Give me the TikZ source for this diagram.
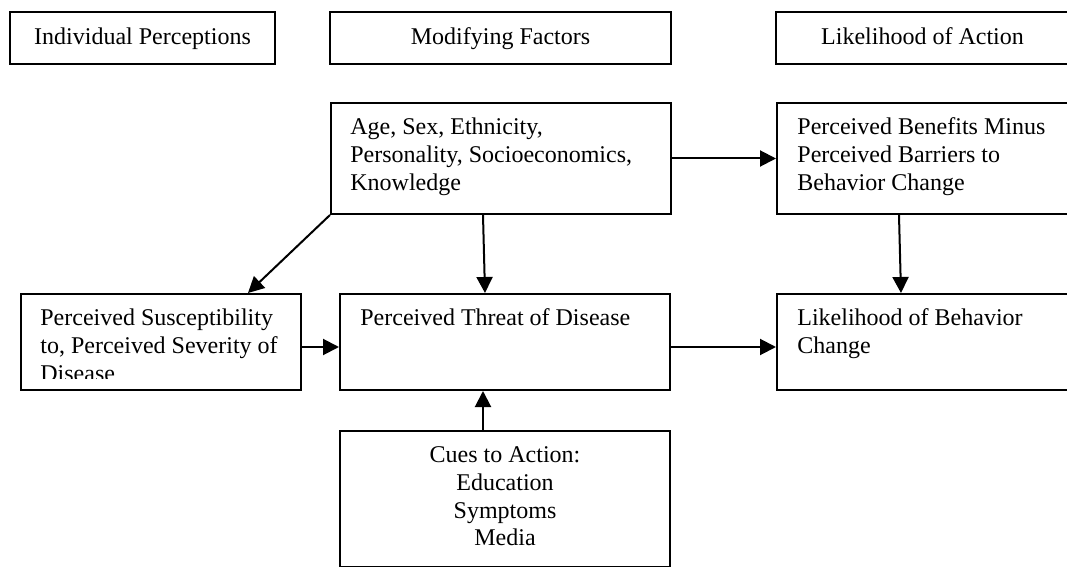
\documentclass[tikz,border=0pt]{standalone}
\usepackage{fontspec}
\setmainfont{Liberation Serif}
\usetikzlibrary{arrows.meta,calc}
\begin{document}
\begin{tikzpicture}[x=0.5pt,y=-0.5pt,
  box/.style={draw, line width=1pt, inner sep=0pt, anchor=north west},
  txt/.style={inner sep=0pt, anchor=north west, align=left, font=\fontsize{12}{13.9}\selectfont},
  ctxt/.style={inner sep=0pt, anchor=north, align=center, font=\fontsize{12}{13.9}\selectfont},
  hdr/.style={draw, line width=1pt, inner sep=0pt, anchor=north west, text height=9pt, text depth=2.7pt, font=\fontsize{12}{13.9}\selectfont},
  arr/.style={line width=1pt, -{Triangle[length=8pt,width=8pt]}}]
\useasboundingbox (0,0) rectangle (1067,567);
% headers
\node[hdr, minimum width=132.5pt, minimum height=26pt] (h1) at (9,11) {Individual Perceptions};
\node[hdr, minimum width=170.5pt, minimum height=26pt] (h2) at (329,11) {Modifying Factors};
\node[hdr, minimum width=146.5pt, minimum height=26pt] (h3) at (775,11) {Likelihood of Action};
% boxes
\node[box, minimum width=170pt, minimum height=55.5pt] (age) at (330,102) {};
\node[box, minimum width=146pt, minimum height=55.5pt] (ben) at (776,102) {};
\node[box, minimum width=140pt, minimum height=48pt] (sus) at (20,293) {};
\node[box, minimum width=165pt, minimum height=48pt] (thr) at (339,293) {};
\node[box, minimum width=146pt, minimum height=48pt] (lik) at (776,293) {};
\node[box, minimum width=165pt, minimum height=68pt] (cue) at (339,430) {};
% texts
\node[txt] (agetxt) at ([shift={(10pt,-6.3pt)}]age.north west) {\strut Age, Sex, Ethnicity,\\Personality, Socioeconomics,\\Knowledge};
\node[txt] (bentxt) at ([shift={(10.5pt,-6.3pt)}]ben.north west) {\strut Perceived Benefits Minus\\Perceived Barriers to\\Behavior Change};
\begin{scope}
\clip (sus.north west) rectangle ([yshift=6.5pt]sus.south east);
\node[txt] (sustxt) at ([shift={(10pt,-6.3pt)}]sus.north west) {\strut Perceived Susceptibility\\to, Perceived Severity of\\Disease};
\end{scope}
\node[txt] (thrtxt) at ([shift={(10.5pt,-6.3pt)}]thr.north west) {\strut Perceived Threat of Disease};
\node[txt] (liktxt) at ([shift={(10.5pt,-6.3pt)}]lik.north west) {\strut Likelihood of Behavior\\Change};
\node[ctxt] (cuetxt) at ([yshift=-6.3pt]cue.north) {\strut Cues to Action:\\Education\\Symptoms\\Media};
% arrows
\draw[arr] (age.east) -- (ben.west);
\draw[arr] ([xshift=-12pt]ben.south) -- ([xshift=-11pt]lik.north);
\draw[arr] ([xshift=-9pt]age.south) -- ([xshift=-10pt]thr.north);
\draw[arr] (age.south west) -- ([xshift=43.5pt]sus.north);
\draw[arr] ([yshift=-2.5pt]sus.east) -- ([yshift=-2.5pt]thr.west);
\draw[arr] ([yshift=-2.5pt]thr.east) -- ([yshift=-2.5pt]lik.west);
\draw[arr] ([xshift=-11pt]cue.north) -- ([xshift=-11pt]thr.south);
\end{tikzpicture}
\end{document}
